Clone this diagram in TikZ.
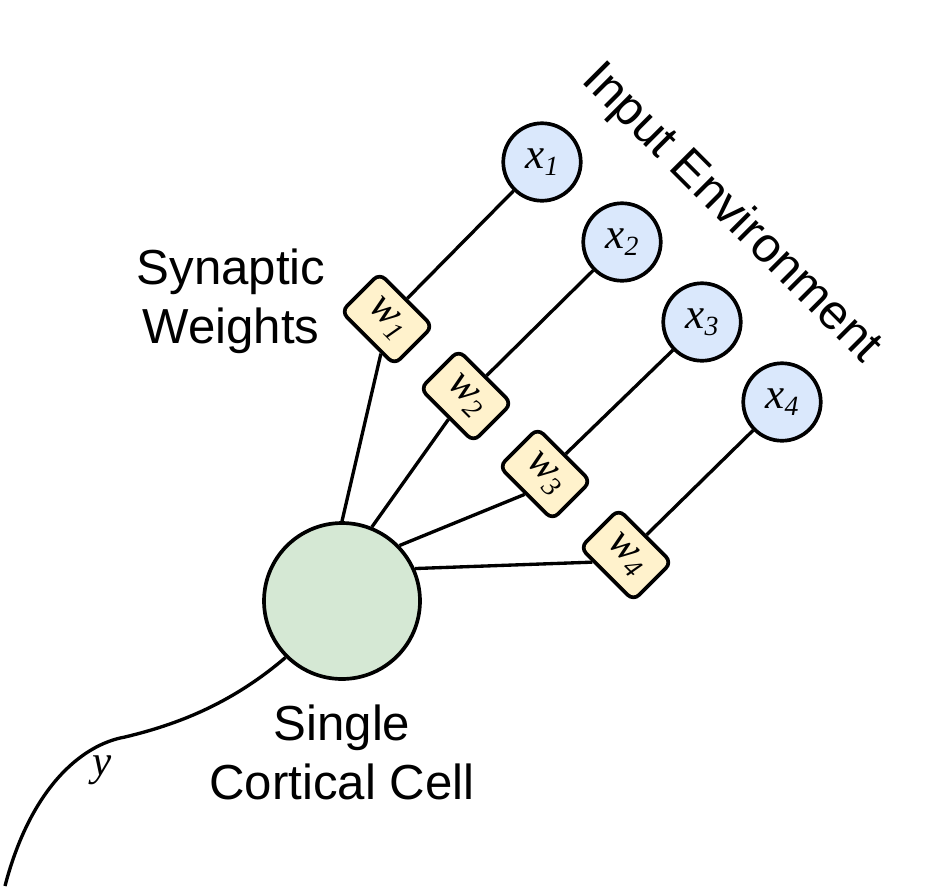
\documentclass[tikz,border=0pt]{standalone}
\usepackage{fontspec}
\setmainfont{Liberation Sans}
\newfontfamily\tnrfont{Liberation Serif}
\definecolor{inblue}{HTML}{DAE8FC}
\definecolor{wyellow}{HTML}{FFF2CC}
\definecolor{cellgreen}{HTML}{D5E8D4}
\newcommand{\sublab}[2]{{\tnrfont\itshape\fontsize{24.5}{25}\selectfont #1\raisebox{-4pt}{\fontsize{15.8}{16}\selectfont #2}}}
\tikzset{
  inputnode/.style={circle, draw, fill=inblue, line width=2.1pt, minimum size=1.55cm, inner sep=0pt},
  weightbox/.style={rectangle, rounded corners=4.5pt, draw, fill=wyellow, line width=2.1pt,
    minimum width=1.5cm, minimum height=1.08cm, inner sep=0pt, rotate=-45},
  cellnode/.style={circle, draw, fill=cellgreen, line width=2.1pt, minimum size=3.12cm},
  biglabel/.style={align=center, font=\fontsize{28}{33.6}\selectfont},
}
\begin{document}
\begin{tikzpicture}[x=0.02cm, y=-0.02cm]
      \useasboundingbox (0,0) rectangle (950,886);
      \draw
        (342,601) node[cellnode] (cell){}
        (542,162) node[inputnode] (x1){\sublab{x}{1}}
        (622,242) node[inputnode] (x2){\sublab{x}{2}}
        (702,322) node[inputnode] (x3){\sublab{x}{3}}
        (782,402) node[inputnode] (x4){\sublab{x}{4}}
        (387,319) node[weightbox] (w1){\sublab{w}{1}}
        (466,396) node[weightbox] (w2){\sublab{w}{2}}
        (545,474) node[weightbox] (w3){\sublab{w}{3}}
        (626,555) node[weightbox] (w4){\sublab{w}{4}};
      \draw
        (231,301) node[biglabel] (synlab){Synaptic\\Weights}
        (342,752) node[biglabel] (celllab){Single\\Cortical Cell}
        (722,223) node[biglabel, rotate=-45, anchor=base] (envlab){Input Environment}
        (102,775) node[anchor=base] (ylab){\tnrfont\itshape\fontsize{24.5}{25}\selectfont y};
      \begin{scope}[line width=1.9pt]
        \draw (x1) -- (w1);
        \draw (x2) -- (w2);
        \draw (x3) -- (w3);
        \draw (x4) -- (w4);
        \draw (cell.90) -- (w1.-55);
        \draw (cell.68) -- (w2.-82);
        \draw (cell.44) -- (w3.south);
        \draw (cell.24) -- (w4.-123);
        \draw (cell.225) .. controls (230,705) and (175,725) .. (125,737)
          .. controls (80,745) and (30,790) .. (5,886);
      \end{scope}
    \end{tikzpicture}
\end{document}
